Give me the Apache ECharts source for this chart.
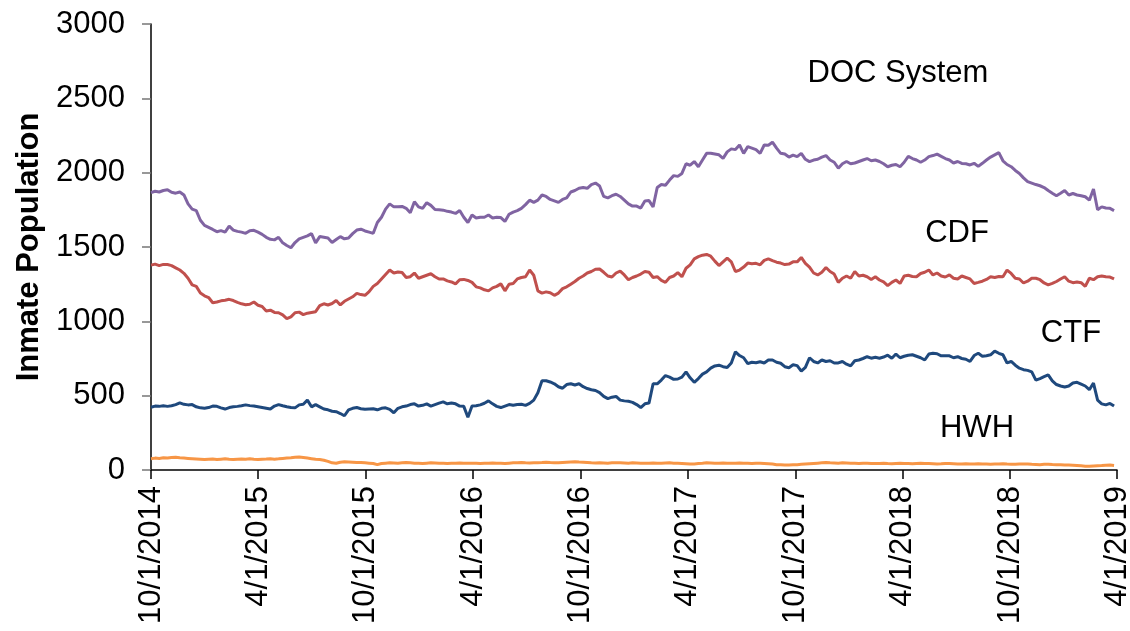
<!DOCTYPE html>
<html>
<head>
<meta charset="utf-8">
<script src="https://cdn.jsdelivr.net/npm/echarts@6/dist/echarts.min.js"></script>
<style>
html,body{margin:0;padding:0;background:#fff;}
#chart{width:1130px;height:631px;}
</style>
</head>
<body>
<div id="chart"></div>
<script>
// Weekly readings starting 10/1/2014 (one value every 7 days)
const STEP_DAYS = 7;
const TICK_DAYS = [0, 182, 365, 548, 731, 913, 1096, 1278, 1461, 1643];
const TICK_LABELS = ['10/1/2014','4/1/2015','10/1/2015','4/1/2016','10/1/2016','4/1/2017','10/1/2017','4/1/2018','10/1/2018','4/1/2019'];
const Y_TICKS = [0, 500, 1000, 1500, 2000, 2500, 3000];

const DOC = [
1866,1875,1870,1880,1885,1868,1862,1870,1850,1790,
1755,1745,1680,1645,1632,1618,1603,1610,1600,1640,
1614,1605,1600,1592,1610,1612,1600,1585,1565,1552,
1548,1565,1528,1510,1495,1530,1555,1565,1575,1590,
1528,1570,1565,1560,1530,1550,1570,1555,1560,1590,
1614,1620,1608,1600,1592,1665,1700,1755,1790,1770,
1770,1773,1760,1730,1805,1770,1760,1798,1780,1752,
1750,1748,1740,1735,1726,1745,1700,1665,1715,1695,
1700,1700,1715,1695,1700,1698,1672,1720,1735,1745,
1760,1785,1815,1800,1815,1850,1840,1820,1810,1800,
1820,1830,1870,1880,1895,1900,1895,1920,1930,1910,
1840,1830,1845,1855,1840,1815,1790,1775,1775,1762,
1810,1812,1770,1900,1920,1915,1950,1980,1975,1995,
2060,2050,2075,2040,2085,2130,2130,2125,2120,2096,
2140,2160,2155,2186,2130,2175,2165,2155,2130,2186,
2185,2205,2165,2130,2125,2105,2118,2108,2130,2090,
2074,2085,2090,2105,2115,2085,2070,2030,2060,2075,
2060,2065,2075,2085,2095,2080,2085,2075,2060,2040,
2050,2055,2040,2070,2110,2095,2085,2070,2085,2108,
2115,2125,2110,2095,2085,2065,2075,2062,2060,2052,
2063,2042,2063,2085,2105,2120,2135,2080,2055,2040,
2015,1995,1965,1940,1930,1920,1912,1900,1880,1862,
1845,1862,1880,1850,1860,1850,1845,1838,1815,1890,
1750,1770,1762,1760,1745
];

const CDF = [
1378,1385,1375,1383,1382,1375,1360,1345,1323,1290,
1245,1235,1190,1172,1160,1125,1130,1138,1142,1148,
1140,1128,1118,1112,1115,1130,1108,1100,1070,1075,
1060,1058,1043,1018,1030,1058,1062,1045,1055,1060,
1065,1105,1118,1110,1120,1140,1110,1135,1150,1165,
1188,1180,1175,1200,1235,1255,1285,1315,1345,1325,
1332,1328,1295,1300,1325,1290,1300,1310,1320,1300,
1285,1285,1272,1265,1252,1280,1282,1275,1262,1232,
1225,1212,1205,1225,1235,1252,1205,1250,1255,1285,
1295,1300,1345,1310,1205,1190,1198,1192,1175,1190,
1220,1232,1250,1268,1290,1305,1325,1335,1350,1352,
1330,1305,1298,1325,1338,1312,1280,1295,1305,1318,
1335,1330,1295,1300,1275,1262,1295,1305,1328,1300,
1357,1380,1420,1435,1445,1450,1438,1405,1375,1400,
1425,1400,1335,1345,1365,1392,1388,1390,1380,1410,
1420,1408,1398,1392,1382,1385,1400,1400,1430,1390,
1365,1325,1312,1330,1362,1335,1318,1262,1290,1305,
1290,1335,1305,1310,1300,1282,1300,1278,1265,1240,
1262,1278,1255,1305,1310,1302,1300,1322,1330,1345,
1312,1325,1305,1298,1312,1290,1285,1305,1295,1285,
1255,1262,1270,1282,1300,1295,1302,1300,1345,1322,
1290,1285,1258,1270,1290,1290,1280,1258,1245,1255,
1268,1285,1300,1270,1260,1265,1260,1235,1290,1280,
1300,1305,1300,1298,1285
];

const CTF = [
422,430,428,432,428,432,440,452,442,438,
440,425,418,415,420,430,428,418,410,420,
425,428,432,438,433,430,425,420,415,410,
430,440,432,425,420,418,438,442,470,425,
440,425,410,405,395,392,380,365,405,415,
420,412,408,410,412,405,415,418,408,385,
415,425,430,440,445,430,435,445,430,440,
450,458,445,450,445,430,428,355,430,432,
438,449,465,445,428,420,430,440,435,440,
442,435,448,470,520,600,600,592,580,560,
550,575,580,572,580,560,548,540,535,520,
495,480,490,495,470,465,462,455,440,420,
445,450,580,580,605,635,625,610,612,625,
660,620,590,615,645,660,685,700,705,695,
690,720,795,770,755,715,725,722,728,720,
740,740,725,718,695,688,708,702,665,690,
755,730,720,740,730,735,720,720,730,712,
700,735,740,750,762,752,758,752,760,772,
752,780,755,765,772,775,765,755,740,780,
785,782,768,768,768,755,762,750,745,730,
770,785,765,768,775,800,785,775,720,730,
705,685,675,670,660,605,615,628,640,600,
575,565,558,565,585,590,578,565,540,585,
470,445,438,448,430
];

const HWH = [
75,80,78,82,80,84,85,82,80,78,
76,74,72,70,72,74,71,73,75,72,
70,72,74,73,75,72,70,73,74,76,
73,75,78,80,82,85,88,84,80,76,
72,70,66,58,48,45,52,55,54,52,
50,50,48,46,44,36,44,46,48,47,
46,48,50,48,46,45,44,46,48,47,
46,45,44,45,46,47,46,45,45,46,
44,45,46,47,46,45,44,46,48,49,
50,48,47,48,49,50,52,50,49,48,
50,52,54,55,53,52,50,48,47,48,
47,46,48,49,48,47,46,48,47,46,
45,46,47,45,46,47,48,46,45,44,
42,40,41,43,45,48,47,46,45,47,
46,45,46,47,46,45,44,46,45,44,
42,40,36,35,33,34,35,36,38,40,
42,44,46,48,50,48,47,46,48,47,
46,45,44,46,45,44,43,44,45,43,
42,44,45,44,43,42,44,45,44,43,
42,41,42,44,43,42,41,40,42,41,
40,42,41,40,39,40,41,42,40,39,
38,40,41,40,38,37,36,38,39,37,
36,35,34,33,32,30,28,26,25,27,
29,30,32,33,30
];

const SERIES_NAMES = ['DOC System', 'CDF', 'CTF', 'HWH'];
const SERIES_VALUES = [DOC, CDF, CTF, HWH];
const COLORS = ['#8064A2', '#C0504D', '#1F497D', '#F79646'];

const FONT = '"Liberation Sans", Arial, sans-serif';

function toPairs(arr) {
  return arr.map((v, i) => [i * STEP_DAYS, v]);
}

const chart = echarts.init(document.getElementById('chart'), null, { renderer: 'canvas' });

const option = {
  animation: false,
  backgroundColor: '#ffffff',
  grid: { left: 151, right: 13, top: 24, bottom: 161, containLabel: false, outerBoundsMode: 'none' },
  xAxis: {
    type: 'value',
    min: TICK_DAYS[0],
    max: TICK_DAYS[TICK_DAYS.length - 1],
    splitLine: { show: false },
    axisLine: { show: true, onZero: false, lineStyle: { color: '#000', width: 1.5 } },
    axisTick: { show: true, customValues: TICK_DAYS, length: 9, lineStyle: { color: '#000', width: 1.5 } },
    axisLabel: {
      customValues: TICK_DAYS,
      rotate: 90,
      margin: 16,
      fontSize: 31,
      fontFamily: FONT,
      color: '#000',
      hideOverlap: false,
      formatter: function (v) {
        const idx = TICK_DAYS.indexOf(Math.round(v));
        return idx >= 0 ? TICK_LABELS[idx] : '';
      }
    }
  },
  yAxis: {
    type: 'value',
    min: Y_TICKS[0],
    max: Y_TICKS[Y_TICKS.length - 1],
    interval: 500,
    name: 'Inmate Population',
    nameLocation: 'middle',
    nameGap: 94,
    nameRotate: 90,
    nameTextStyle: { fontSize: 31, fontWeight: 'bold', fontFamily: FONT, color: '#000' },
    splitLine: { show: false },
    axisLine: { show: true, lineStyle: { color: '#000', width: 1.5 } },
    axisTick: { show: true, length: 9, lineStyle: { color: '#777', width: 1.5 } },
    axisLabel: {
      fontSize: 31, fontFamily: FONT, color: '#000', margin: 26,
      formatter: function (v) { return String(v); }
    }
  },
  series: SERIES_NAMES.map((name, i) => ({
    name: name,
    type: 'line',
    data: toPairs(SERIES_VALUES[i]),
    showSymbol: false,
    symbol: 'none',
    smooth: false,
    lineStyle: { color: COLORS[i], width: 3 },
    itemStyle: { color: COLORS[i] },
    z: 4 - i
  })),
  graphic: [
    { type: 'text', x: 898, y: 73, style: { text: 'DOC System', font: '31px ' + FONT, fill: '#000', textAlign: 'center', textVerticalAlign: 'middle' } },
    { type: 'text', x: 957, y: 233, style: { text: 'CDF', font: '31px ' + FONT, fill: '#000', textAlign: 'center', textVerticalAlign: 'middle' } },
    { type: 'text', x: 1071, y: 333, style: { text: 'CTF', font: '31px ' + FONT, fill: '#000', textAlign: 'center', textVerticalAlign: 'middle' } },
    { type: 'text', x: 977, y: 428, style: { text: 'HWH', font: '31px ' + FONT, fill: '#000', textAlign: 'center', textVerticalAlign: 'middle' } }
  ]
};

chart.setOption(option);
</script>
</body>
</html>
